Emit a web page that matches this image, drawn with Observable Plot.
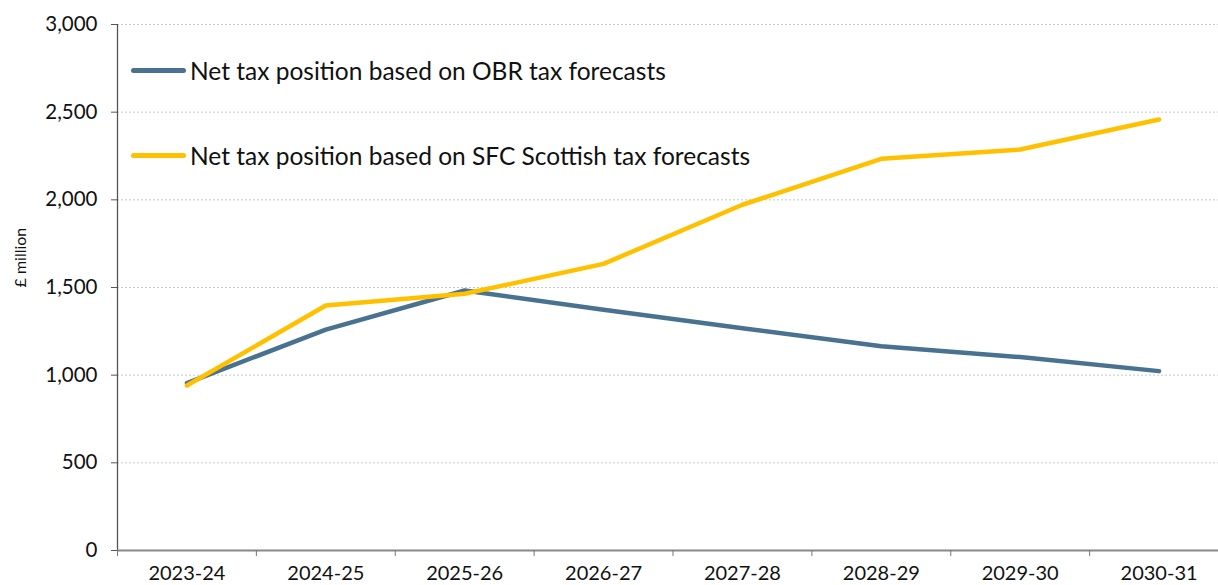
<!DOCTYPE html>
<html><head><meta charset="utf-8">
<script src="https://cdn.jsdelivr.net/npm/d3@7"></script>
<script src="https://cdn.jsdelivr.net/npm/@observablehq/plot@0.6"></script>
<style>
body{margin:0;background:#fff;font-family:Lato,"Open Sans",sans-serif;}
#wrap{position:relative;width:1218px;height:585px;overflow:hidden;}
.leg{position:absolute;left:131px;display:flex;align-items:center;font-size:24.5px;color:#111;white-space:nowrap;}
.leg span.sw{display:inline-block;width:55px;height:5px;border-radius:3px;margin-right:4px;}
</style></head><body><div id="wrap"></div>
<script>
const years = ["2023-24","2024-25","2025-26","2026-27","2027-28","2028-29","2029-30","2030-31"];
const obr = [955, 1260, 1483, 1373, 1268, 1165, 1103, 1023];
const sfc = [941, 1397, 1464, 1635, 1972, 2234, 2287, 2458];
const seriesNames = ["Net tax position based on OBR tax forecasts", "Net tax position based on SFC Scottish tax forecasts"];
const seriesColors = ["#48728f", "#ffc000"];
const yTicks = [0, 500, 1000, 1500, 2000, 2500, 3000];

const data = [];
[obr, sfc].forEach((vals, s) => vals.forEach((v, i) => data.push({x: i + 0.5, year: years[i], value: v, series: seriesNames[s]})));

const chart = Plot.plot({
  width: 1218, height: 585,
  marginLeft: 117, marginRight: 0, marginTop: 24, marginBottom: 35,
  style: {fontFamily: 'Lato, "Open Sans", sans-serif', fontSize: "20px", color: "#111", background: "#fff"},
  x: {type: "linear", domain: [0, years.length], range: [117, 1228]},
  y: {domain: [0, 3000]},
  color: {domain: seriesNames, range: seriesColors},
  marks: [
    Plot.gridY(yTicks.filter(v => v > 0), {stroke: "#c8c8c8", strokeOpacity: 1, strokeDasharray: "2,2"}),
    Plot.axisY({ticks: yTicks, tickFormat: d3.format(","), tickSize: 6, tickPadding: 14, fontSize: 20.5, label: null, stroke: "#555"}),
    Plot.ruleX([0], {y1: 0, y2: 3000, stroke: "#555", strokeWidth: 1.3}),
    Plot.ruleY([0], {stroke: "#888", strokeWidth: 2}),
    Plot.axisX({ticks: d3.range(0, years.length + 1), tickFormat: () => "", tickSize: 6, stroke: "#777", label: null}),
    Plot.axisX({ticks: d3.range(years.length).map(i => i + 0.5), tickFormat: i => years[Math.floor(i)], tickSize: 0, tickPadding: 15, fontSize: 20, label: null}),
    Plot.text(["£ million"], {frameAnchor: "left", rotate: -90, dx: -97, fontSize: 16}),
    Plot.line(data, {x: "x", y: "value", stroke: "series", z: "series", strokeWidth: 4.5, strokeLinecap: "round", strokeLinejoin: "round"})
  ]
});
const wrap = document.getElementById("wrap");
wrap.appendChild(chart);
const legTops = [70, 155];
seriesNames.forEach((n, s) => {
  const d = document.createElement("div");
  d.className = "leg";
  d.style.top = (legTops[s] - 15) + "px";
  d.style.height = "30px";
  d.innerHTML = `<span class="sw" style="background:${seriesColors[s]}"></span><span>${n}</span>`;
  wrap.appendChild(d);
});
</script></body></html>
